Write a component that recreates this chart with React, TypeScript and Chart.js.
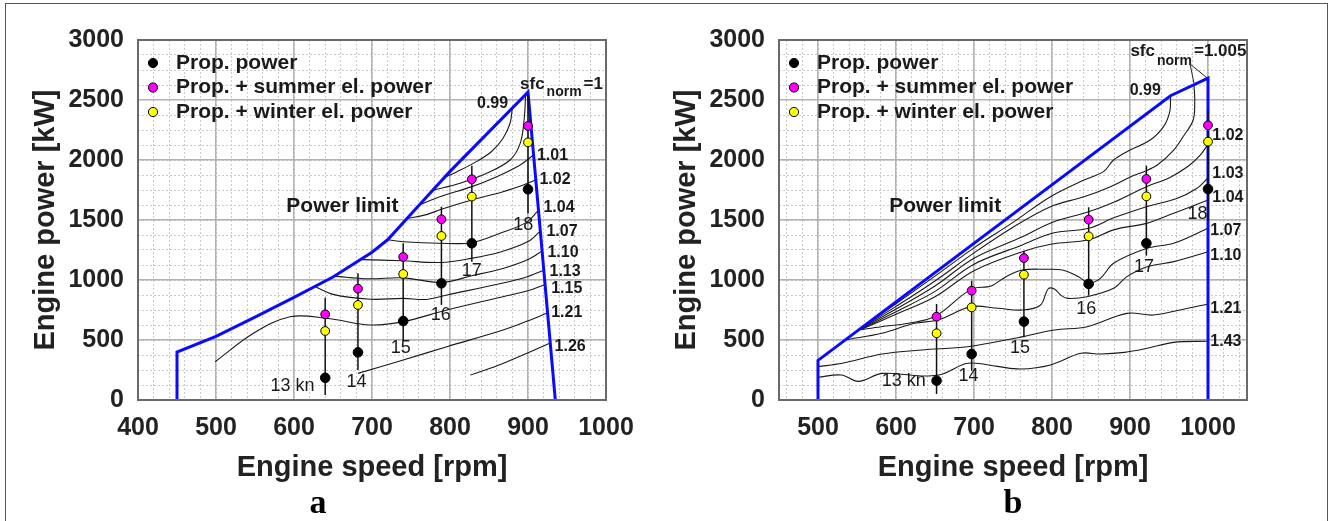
import React, { useEffect, useRef } from 'react';
import { Chart, registerables } from 'chart.js';

Chart.register(...registerables);

type P = [number, number];

const FONT = '"Liberation Sans", Arial, Helvetica, sans-serif';
const SERIF = '"Liberation Serif", "Times New Roman", serif';
const TXT = '#1a1a1a';

// ---------- shared axis ticks ----------
const yTicks = [0, 500, 1000, 1500, 2000, 2500, 3000];
const xTicksA = [400, 500, 600, 700, 800, 900, 1000];
const xTicksB = [500, 600, 700, 800, 900, 1000];
const xMinorStep = 20;
const yMinorStep = 125;

// ---------- Panel a ----------
const speedsA = [640, 682, 740, 789, 828, 900];
const propA = [185, 397, 658, 972, 1306, 1756];
const summerA = [714, 928, 1192, 1506, 1839, 2284];
const winterA = [575, 792, 1050, 1367, 1695, 2147];
const barLowA = [42, 250, 500, 792, 1153, 1556];
const barHighA = [853, 1056, 1306, 1611, 1953, 2540];
const knotsA = ['13 kn', '14', '15', '16', '17', '18'];
const knotPosA: P[] = [[598, 117], [680, 150], [737, 433], [788, 708], [828, 1075], [894, 1454]];

const limitA: P[] = [[450, 0], [450, 400], [500, 530], [550, 690], [600, 855], [650, 1025], [700, 1232], [720, 1335], [760, 1620], [800, 1905], [900, 2565], [935, 0]];

const c099A: P[] = [[793, 1855], [809, 1903], [830, 1972], [853, 2069], [868, 2181], [877, 2306], [880, 2436]];
const c100A: P[] = [[778, 1748], [813, 1806], [847, 1889], [877, 2000], [890, 2139], [895, 2333], [897, 2545]];
const c101A: P[] = [[761, 1627], [787, 1694], [828, 1778], [860, 1861], [890, 1958], [907, 2042]];
const c102A: P[] = [[745, 1513], [770, 1545], [789, 1590], [828, 1667], [868, 1736], [894, 1792], [912, 1839]];
const c104A: P[] = [[720, 1335], [740, 1319], [787, 1306], [828, 1311], [864, 1389], [898, 1480], [913, 1578]];
const c107A: P[] = [[687, 1170], [738, 1160], [788, 1146], [827, 1180], [866, 1236], [900, 1320], [915, 1403]];
const c110A: P[] = [[652, 1032], [695, 1010], [740, 1018], [789, 980], [828, 1035], [870, 1100], [900, 1170], [919, 1245]];
const c113A: P[] = [[626, 948], [650, 880], [698, 840], [740, 847], [770, 838], [796, 875], [868, 975], [900, 1030], [921, 1083]];
const c115A: P[] = [[499, 319], [548, 556], [595, 694], [642, 681], [698, 625], [740, 653], [796, 750], [868, 861], [900, 910], [922, 962]];
const c121A: P[] = [[682, 222], [740, 333], [796, 444], [868, 583], [900, 660], [924, 722]];
const c126A: P[] = [[826, 208], [868, 305], [928, 472]];

const contourTextA = ['0.99', '1.01', '1.02', '1.04', '1.07', '1.10', '1.13', '1.15', '1.21', '1.26'];
const contourTextPosA: P[] = [[854.6, 2467], [931.4, 2033], [934.6, 1837], [939.8, 1600], [943.6, 1404], [944.9, 1225], [947.5, 1071], [949.7, 931], [949.7, 725], [954, 446]];

// ---------- Panel b ----------
const speedsB = [652, 697, 764, 847, 921, 1000];
const propB = [161, 383, 653, 967, 1306, 1758];
const summerB = [694, 911, 1183, 1503, 1842, 2289];
const winterB = [556, 772, 1044, 1364, 1697, 2153];
const barLowB = [50, 244, 522, 870, 1203, 1494];
const barHighB = [800, 994, 1244, 1606, 1953, 2411];
const knotsB = ['13 kn', '14', '15', '16', '17', '18'];
const knotPosB: P[] = [[610, 154], [693, 196], [759, 433], [844, 758], [918, 1108], [986.6, 1550]];

const limitB: P[] = [[500, 0], [500, 330], [952, 2536], [1000, 2683], [1000, 0]];
const leaderB: P[] = [[982, 2640], [977, 2800], [999, 2683]];

const c099B: P[] = [[555, 602], [600, 802], [650, 1032], [700, 1268], [750, 1480], [798, 1694], [841, 1833], [866, 1903], [879, 2000], [896, 2069], [926, 2167], [943, 2278], [951, 2403], [952, 2536]];
const c1005B: P[] = [[555, 598], [600, 780], [650, 992], [700, 1226], [750, 1440], [798, 1611], [841, 1694], [875, 1778], [901, 1861], [918, 1903], [935, 1958], [956, 2083], [968, 2194], [981, 2333], [983, 2500], [982, 2625]];
const c102B: P[] = [[555, 594], [600, 758], [650, 950], [700, 1182], [762, 1360], [800, 1480], [847, 1569], [880, 1650], [921, 1778], [950, 1850], [975, 1950], [990, 2040], [1000, 2130]];
const c103B: P[] = [[555, 591], [600, 736], [650, 905], [700, 1132], [762, 1292], [800, 1390], [847, 1431], [880, 1520], [921, 1611], [960, 1680], [985, 1760], [1000, 1850]];
const c104B: P[] = [[555, 588], [600, 714], [650, 860], [700, 1078], [762, 1236], [800, 1300], [847, 1335], [880, 1420], [921, 1472], [956, 1556], [1000, 1667]];
const c107B: P[] = [[553, 585], [581, 611], [616, 639], [651, 700], [696, 922], [722, 950], [741, 1028], [762, 1083], [792, 1089], [813, 1083], [834, 1028], [847, 975], [862, 1014], [879, 1139], [922, 1264], [956, 1306], [1000, 1431]];
const c110B: P[] = [[535, 501], [582, 556], [624, 639], [654, 667], [696, 778], [731, 764], [762, 750], [785, 790], [795, 925], [803, 925], [812, 870], [820, 847], [845, 861], [879, 931], [896, 1028], [922, 1111], [956, 1153], [1000, 1236]];
const c121B: P[] = [[500, 278], [531, 306], [582, 383], [633, 417], [692, 444], [752, 514], [803, 583], [845, 611], [896, 722], [930, 708], [964, 750], [1000, 800]];
const c143B: P[] = [[500, 190], [530, 208], [552, 155], [582, 222], [633, 200], [660, 217], [692, 306], [730, 280], [760, 258], [798, 292], [837, 389], [862, 383], [893, 397], [922, 431], [956, 480], [1000, 490]];

const contourTextB = ['0.99', '1.02', '1.03', '1.04', '1.07', '1.10', '1.21', '1.43'];
const contourTextPosB: P[] = [[919.6, 2575], [1025.5, 2204], [1025.5, 1883], [1025.5, 1688], [1023, 1408], [1023, 1200], [1023, 758], [1023, 483]];

const legendText = ['Prop. power', 'Prop. + summer el. power', 'Prop. + winter el. power'];
const legendColors = ['#000000', '#ff00ff', '#ffff00'];

interface Panel {
  xMin: number; xMax: number; xTicks: number[];
  speeds: number[]; prop: number[]; summer: number[]; winter: number[];
  low: number[]; high: number[];
  knots: string[]; knotPos: P[];
  limit: P[]; contours: P[][]; extraLines: P[][];
  cText: string[]; cPos: P[];
  powerLimitPos: P; sfcPos: P; sfcTail: string; sfcSub: number;
  letter: string; letterX: number;
}

const panelA: Panel = {
  xMin: 400, xMax: 1000, xTicks: xTicksA,
  speeds: speedsA, prop: propA, summer: summerA, winter: winterA, low: barLowA, high: barHighA,
  knots: knotsA, knotPos: knotPosA, limit: limitA,
  contours: [c099A, c100A, c101A, c102A, c104A, c107A, c110A, c113A, c115A, c121A, c126A],
  extraLines: [],
  cText: contourTextA, cPos: contourTextPosA,
  powerLimitPos: [662, 1612], sfcPos: [889.8, 2592], sfcTail: '=1', sfcSub: 7,
  letter: 'a', letterX: 318,
};

const panelB: Panel = {
  xMin: 450, xMax: 1050, xTicks: xTicksB,
  speeds: speedsB, prop: propB, summer: summerB, winter: winterB, low: barLowB, high: barHighB,
  knots: knotsB, knotPos: knotPosB, limit: limitB,
  contours: [c099B, c1005B, c102B, c103B, c104B, c107B, c110B, c121B, c143B],
  extraLines: [leaderB],
  cText: contourTextB, cPos: contourTextPosB,
  powerLimitPos: [663, 1617], sfcPos: [900.5, 2867], sfcTail: '=1.005', sfcSub: 9,
  letter: 'b', letterX: 372,
};

const pts = (a: P[]) => a.map(([x, y]) => ({ x, y }));

function gridValues(min: number, max: number, step: number) {
  const out: { value: number }[] = [];
  for (let v = Math.ceil(min / step) * step; v <= max + 1e-6; v += step) out.push({ value: v });
  return out;
}

function buildDatasets(p: Panel) {
  const ds: any[] = [];
  const mk = (vals: number[], fill: string, r: number) => ({
    data: p.speeds.map((s, i) => ({ x: s, y: vals[i] })),
    showLine: false, pointRadius: r, pointHoverRadius: r,
    pointBackgroundColor: fill, pointBorderColor: '#000', pointBorderWidth: 1,
  });
  ds.push(mk(p.prop, '#000000', 4.8));
  ds.push(mk(p.summer, '#ff00ff', 4.4));
  ds.push(mk(p.winter, '#ffff00', 4.4));
  p.speeds.forEach((s, i) => ds.push({
    data: [{ x: s, y: p.low[i] }, { x: s, y: p.high[i] }],
    showLine: true, borderColor: '#111', borderWidth: 1.5, pointRadius: 0, tension: 0,
  }));
  ds.push({ data: pts(p.limit), showLine: true, borderColor: '#0a0aff', borderWidth: 3, pointRadius: 0, tension: 0 });
  p.extraLines.forEach(l => ds.push({ data: pts(l), showLine: true, borderColor: '#222', borderWidth: 1, pointRadius: 0, tension: 0 }));
  p.contours.forEach(c => ds.push({ data: pts(c), showLine: true, borderColor: '#1a1a1a', borderWidth: 1.1, pointRadius: 0, tension: 0.35 }));
  return ds;
}

function overlay(p: Panel) {
  return {
    id: 'overlay',
    afterDraw(chart: any) {
      const { ctx, chartArea: a, scales } = chart;
      const X = (v: number) => scales.x.getPixelForValue(v);
      const Y = (v: number) => scales.y.getPixelForValue(v);
      ctx.save();
      ctx.strokeStyle = '#6a6a6a';
      ctx.lineWidth = 2;
      ctx.strokeRect(a.left, a.top, a.right - a.left, a.bottom - a.top);

      // legend
      legendText.forEach((t, i) => {
        const y = a.top + 23 + i * 24.5;
        ctx.beginPath();
        ctx.arc(a.left + 15, y, 4.6, 0, Math.PI * 2);
        ctx.fillStyle = legendColors[i];
        ctx.fill();
        ctx.lineWidth = 1;
        ctx.strokeStyle = '#000';
        ctx.stroke();
        ctx.fillStyle = TXT;
        ctx.font = `bold 21px ${FONT}`;
        ctx.textAlign = 'left';
        ctx.textBaseline = 'middle';
        ctx.fillText(t, a.left + 38, y);
      });

      // contour labels
      ctx.fillStyle = TXT;
      ctx.font = `bold 16px ${FONT}`;
      ctx.textAlign = 'center';
      ctx.textBaseline = 'middle';
      p.cText.forEach((t, i) => ctx.fillText(t, X(p.cPos[i][0]), Y(p.cPos[i][1])));

      // speed labels
      ctx.font = `18px ${FONT}`;
      p.knots.forEach((t, i) => ctx.fillText(t, X(p.knotPos[i][0]), Y(p.knotPos[i][1])));

      // power limit
      ctx.font = `bold 21px ${FONT}`;
      ctx.fillText('Power limit', X(p.powerLimitPos[0]), Y(p.powerLimitPos[1]));

      // sfc_norm label
      ctx.textAlign = 'left';
      ctx.textBaseline = 'alphabetic';
      let sx = X(p.sfcPos[0]);
      const sy = Y(p.sfcPos[1]);
      ctx.font = `bold 17px ${FONT}`;
      ctx.fillText('sfc', sx, sy);
      sx += ctx.measureText('sfc').width + 2;
      ctx.font = `bold 14px ${FONT}`;
      ctx.fillText('norm', sx, sy + p.sfcSub);
      sx += ctx.measureText('norm').width + 2;
      ctx.font = `bold 17px ${FONT}`;
      ctx.fillText(p.sfcTail, sx, sy);

      // panel letter
      ctx.font = `bold 34px ${SERIF}`;
      ctx.textAlign = 'center';
      ctx.fillStyle = '#000';
      ctx.fillText(p.letter, p.letterX, 513);
      ctx.restore();
    },
  };
}

function makeConfig(p: Panel): any {
  const tickFont = { family: FONT, size: 25, weight: 'bold' as const };
  const titleFont = { family: FONT, size: 29, weight: 'bold' as const };
  const plain = (v: any) => String(v);
  return {
    type: 'scatter',
    data: { datasets: buildDatasets(p) },
    plugins: [overlay(p)],
    options: {
      animation: false,
      responsive: false,
      events: [],
      layout: { padding: { left: 0, right: 59, top: 40, bottom: 0 } },
      plugins: { legend: { display: false }, tooltip: { enabled: false } },
      scales: {
        xm: {
          type: 'linear', position: 'bottom', min: p.xMin, max: p.xMax,
          ticks: { display: false },
          afterBuildTicks: (s: any) => { s.ticks = gridValues(p.xMin, p.xMax, xMinorStep); },
          grid: { color: '#cbcbcb', lineWidth: 1, drawTicks: false },
          border: { display: false, dash: [2, 2] },
          afterFit: (s: any) => { s.height = 0; },
        },
        ym: {
          type: 'linear', position: 'left', min: 0, max: 3000,
          ticks: { display: false },
          afterBuildTicks: (s: any) => { s.ticks = gridValues(0, 3000, yMinorStep); },
          grid: { color: '#cbcbcb', lineWidth: 1, drawTicks: false },
          border: { display: false, dash: [2, 2] },
          afterFit: (s: any) => { s.width = 0; },
        },
        x: {
          type: 'linear', position: 'bottom', min: p.xMin, max: p.xMax,
          ticks: { font: tickFont, color: '#222', padding: 13, maxRotation: 0, autoSkip: false, callback: plain },
          afterBuildTicks: (s: any) => { s.ticks = p.xTicks.map(v => ({ value: v })); },
          grid: { color: '#b2b2b2', lineWidth: 1.5, drawTicks: false },
          border: { display: false },
          title: { display: true, text: 'Engine speed [rpm]', font: titleFont, color: '#222', padding: { top: 0, bottom: 36 } },
          afterFit: (s: any) => { s.height = 121; },
        },
        y: {
          type: 'linear', position: 'left', min: 0, max: 3000,
          ticks: { font: tickFont, color: '#222', padding: 14, autoSkip: false, callback: plain },
          afterBuildTicks: (s: any) => { s.ticks = yTicks.map(v => ({ value: v })); },
          grid: { color: '#b2b2b2', lineWidth: 1.5, drawTicks: false },
          border: { display: false },
          title: { display: true, text: 'Engine power [kW]', font: titleFont, color: '#222', padding: { top: 29, bottom: 0 } },
          afterFit: (s: any) => { s.width = 138; },
        },
      },
    },
  };
}

function PanelChart({ panel, left }: { panel: Panel; left: number }) {
  const ref = useRef<HTMLCanvasElement | null>(null);
  useEffect(() => {
    if (!ref.current) return;
    const chart = new Chart(ref.current, makeConfig(panel));
    return () => chart.destroy();
  }, [panel]);
  return (
    <div style={{ position: 'absolute', left, top: 0, width: 665, height: 521 }}>
      <canvas ref={ref} width={665} height={521} style={{ display: 'block', width: 665, height: 521 }} />
    </div>
  );
}

export default function App() {
  return (
    <div style={{ position: 'fixed', left: 0, top: 0, width: 1330, height: 521, background: '#fff', overflow: 'hidden' }}>
      <div style={{ position: 'absolute', left: 5, top: 3, width: 1323, height: 540, border: '1px solid #555', boxSizing: 'border-box' }} />
      <PanelChart panel={panelA} left={0} />
      <PanelChart panel={panelB} left={641} />
    </div>
  );
}
